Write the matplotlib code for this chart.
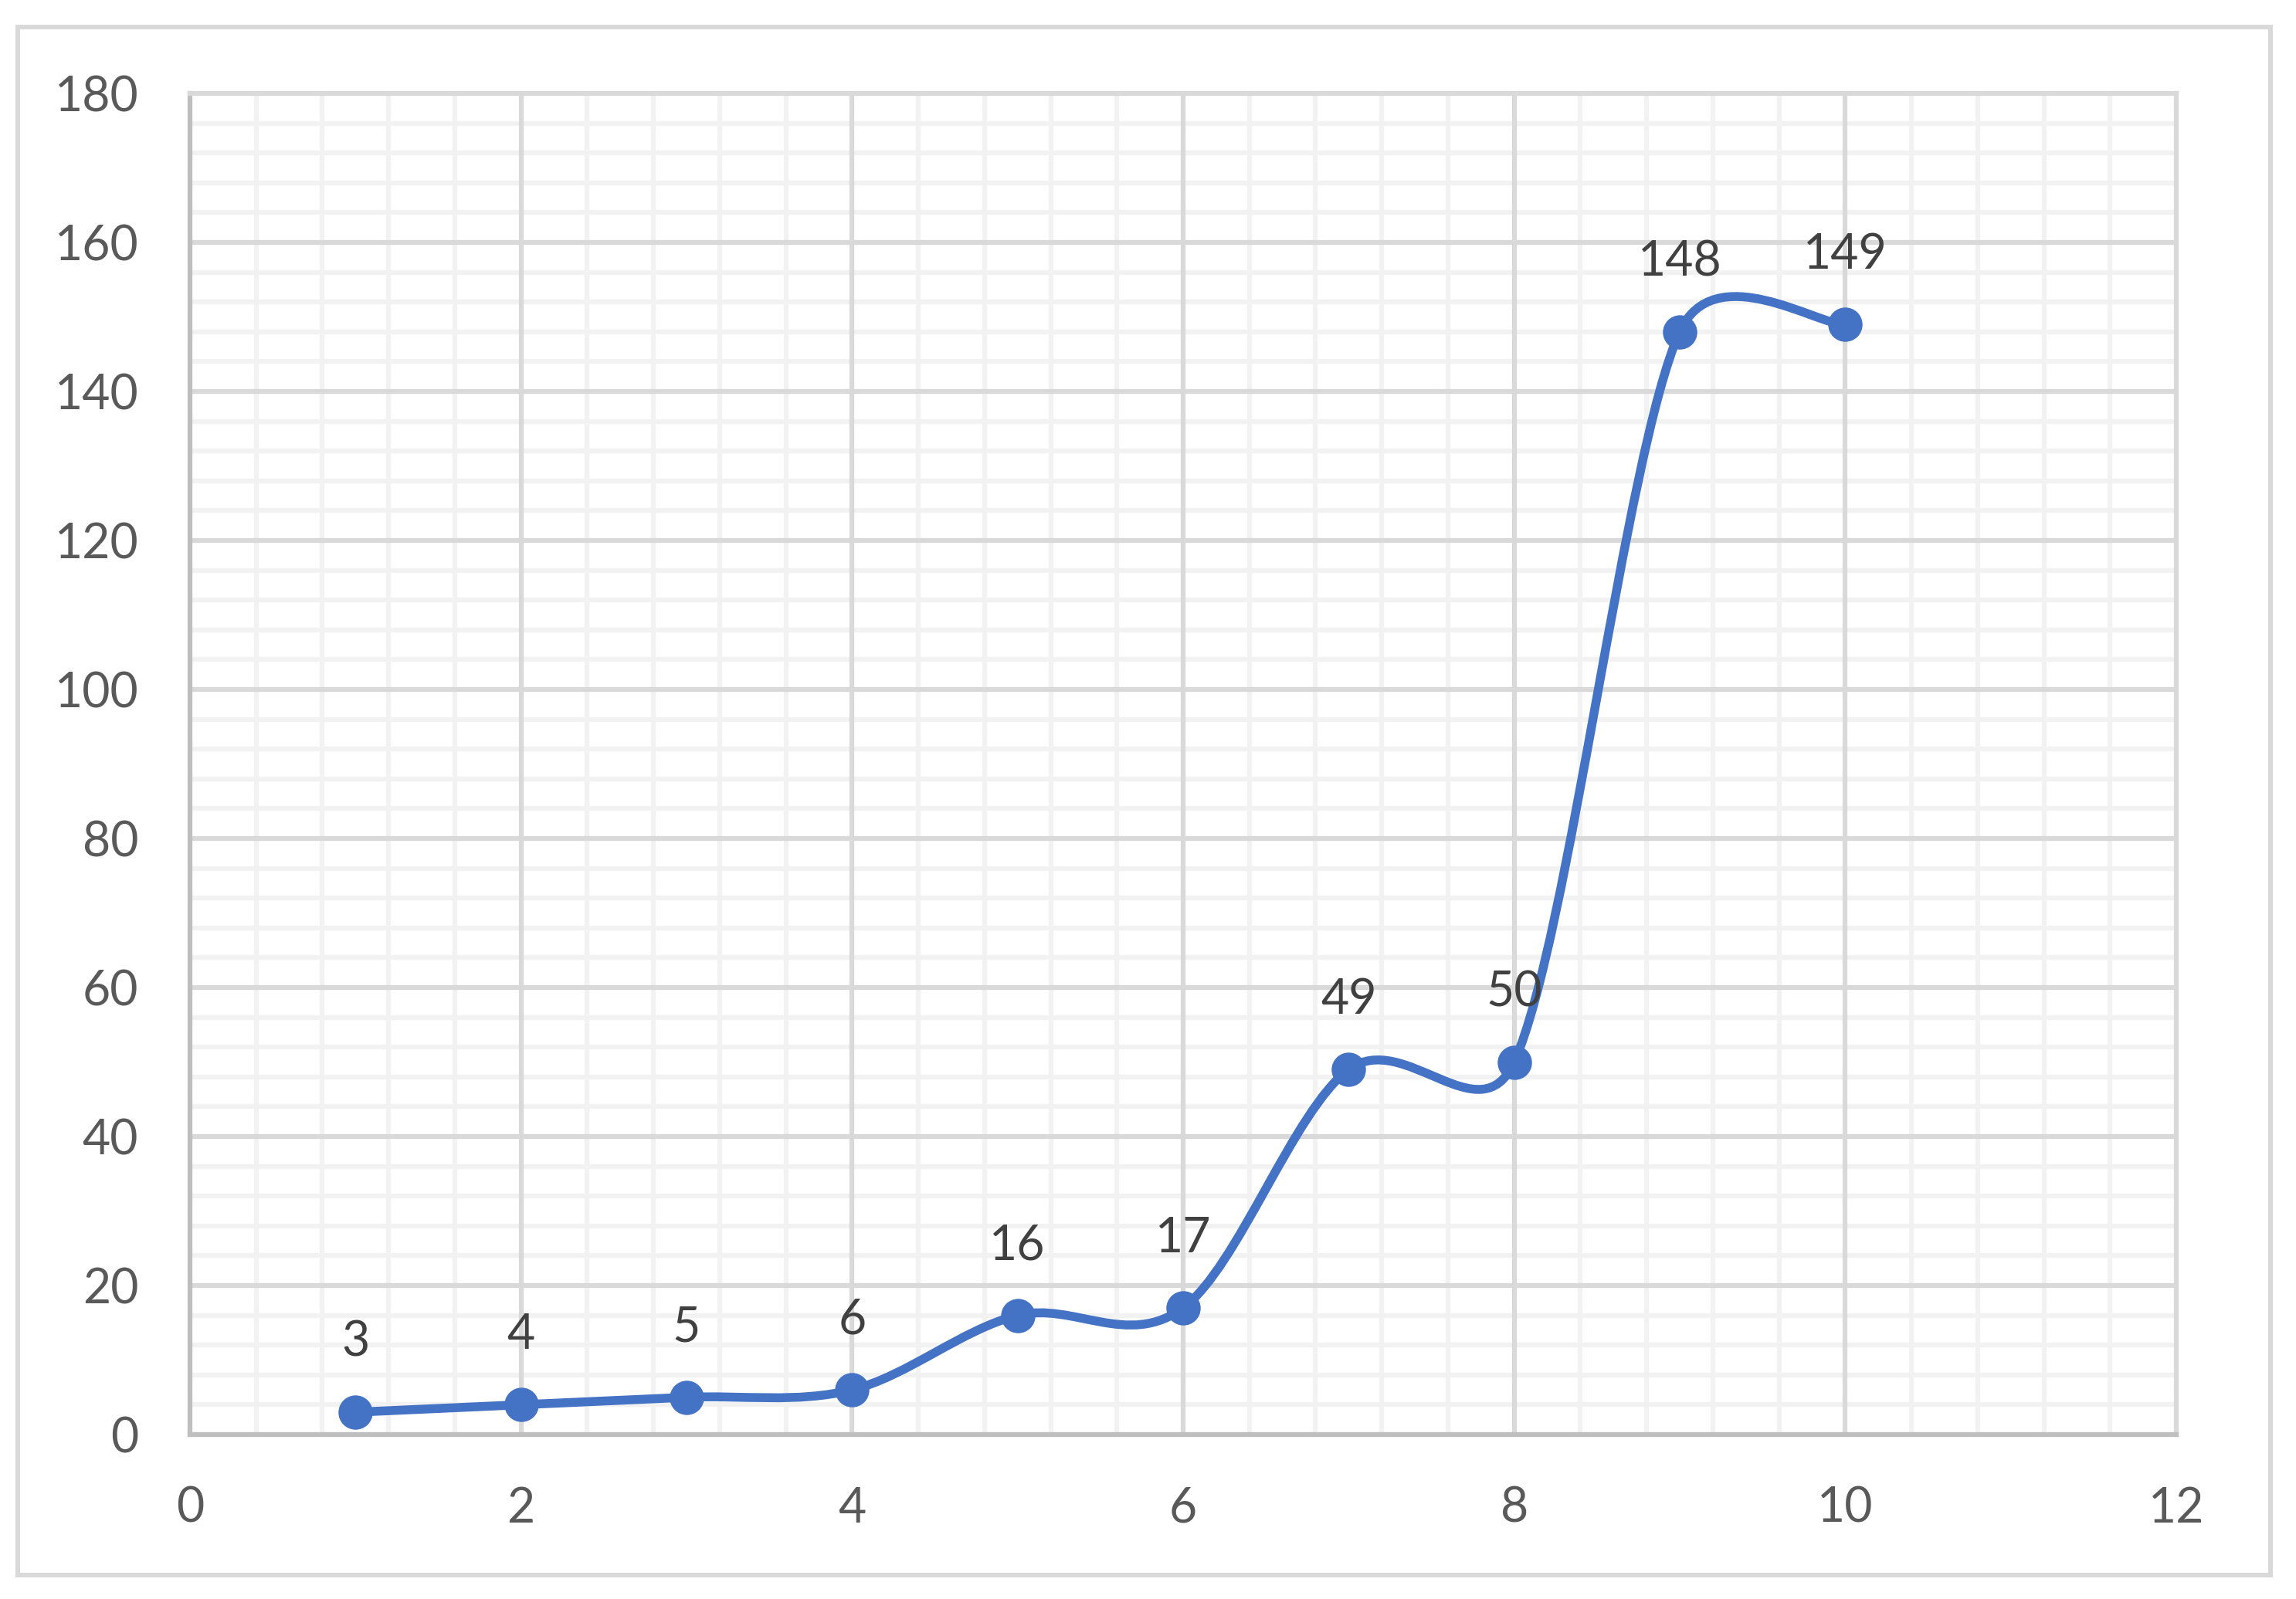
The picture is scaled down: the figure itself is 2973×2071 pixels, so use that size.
import numpy as np
import matplotlib
matplotlib.use("Agg")
import matplotlib.pyplot as plt
from matplotlib.path import Path
from matplotlib.patches import PathPatch, Rectangle
from matplotlib.ticker import MultipleLocator

# ---- data ----
x_values = [1, 2, 3, 4, 5, 6, 7, 8, 9, 10]
y_values = [3, 4, 5, 6, 16, 17, 49, 50, 148, 149]
x_limits = (0, 12)
y_limits = (0, 180)
x_major_step = 2
x_minor_step = 0.4
y_major_step = 20
y_minor_step = 4

# ---- style ----
LINE_BLUE = "#4472C4"
MAJOR_GRID = "#D9D9D9"
MINOR_GRID = "#F2F2F2"
AXIS_LINE = "#BFBFBF"
TICK_TEXT = "#595959"
LABEL_TEXT = "#404040"

plt.rcParams['font.family'] = ['Lato', 'DejaVu Sans']

W, H = 2973, 2071
fig = plt.figure(figsize=(W / 100, H / 100), dpi=100)
fig.patch.set_facecolor("white")

# outer chart-area border
fig.patches.append(Rectangle((23 / W, (H - 2040) / H), (2940 - 23) / W, (2040 - 35) / H,
                             transform=fig.transFigure, fill=False,
                             edgecolor=MAJOR_GRID, lw=4.3, zorder=0))

ax = fig.add_axes([246 / W, (H - 1858) / H, (2818 - 246) / W, (1858 - 121) / H])
ax.set_xlim(*x_limits)
ax.set_ylim(*y_limits)
ax.xaxis.set_major_locator(MultipleLocator(x_major_step))
ax.xaxis.set_minor_locator(MultipleLocator(x_minor_step))
ax.yaxis.set_major_locator(MultipleLocator(y_major_step))
ax.yaxis.set_minor_locator(MultipleLocator(y_minor_step))

# minor grid (axis), major grid drawn on top
ax.grid(which='minor', color=MINOR_GRID, lw=4.5, zorder=0)
ax.grid(which='major', visible=False)
ax.set_axisbelow(True)
xt = [t for t in ax.get_xticks() if x_limits[0] < t < x_limits[1]]
yt = [t for t in ax.get_yticks() if y_limits[0] < t < y_limits[1]]
ax.vlines(xt, *y_limits, colors=MAJOR_GRID, lw=4.5, zorder=1)
ax.hlines(yt, *x_limits, colors=MAJOR_GRID, lw=4.5, zorder=1)

for side in ("left", "bottom"):
    ax.spines[side].set_color(AXIS_LINE)
    ax.spines[side].set_linewidth(4.5)
for side in ("top", "right"):
    ax.spines[side].set_color(MAJOR_GRID)
    ax.spines[side].set_linewidth(4.5)

ax.tick_params(which='both', length=0, labelsize=45, labelcolor=TICK_TEXT, pad=48)

# smoothed line (Excel-like Bezier smoothing computed in display space)
pts = ax.transData.transform(np.column_stack([x_values, y_values]))
n = len(pts)
verts = [pts[0]]
codes = [Path.MOVETO]
for i in range(n - 1):
    p0 = pts[max(i - 1, 0)]
    p1 = pts[i]
    p2 = pts[i + 1]
    p3 = pts[min(i + 2, n - 1)]
    d12 = np.hypot(*(p2 - p1))
    t1 = (p2 - p0) / 6.0
    t2 = (p3 - p1) / 6.0
    l1 = np.hypot(*t1)
    l2 = np.hypot(*t2)
    if l1 > d12 / 2:
        t1 = t1 * (d12 / 2) / l1
    if l2 > d12 / 2:
        t2 = t2 * (d12 / 2) / l2
    verts += [p1 + t1, p2 - t2, p2]
    codes += [Path.CURVE4] * 3
data_verts = ax.transData.inverted().transform(np.array(verts))
ax.add_patch(PathPatch(Path(data_verts, codes), fill=False, edgecolor=LINE_BLUE,
                       lw=8.3, capstyle='round', joinstyle='round', zorder=3))

ax.plot(x_values, y_values, 'o', ms=32, color=LINE_BLUE, mec=LINE_BLUE, mew=0, zorder=4)

for xv, yv in zip(x_values, y_values):
    ax.annotate(str(yv), (xv, yv), xytext=(0, 52), textcoords='offset points',
                ha='center', va='baseline', fontsize=45, color=LABEL_TEXT, zorder=5)

fig.savefig("out.png", dpi=100, facecolor="white")
